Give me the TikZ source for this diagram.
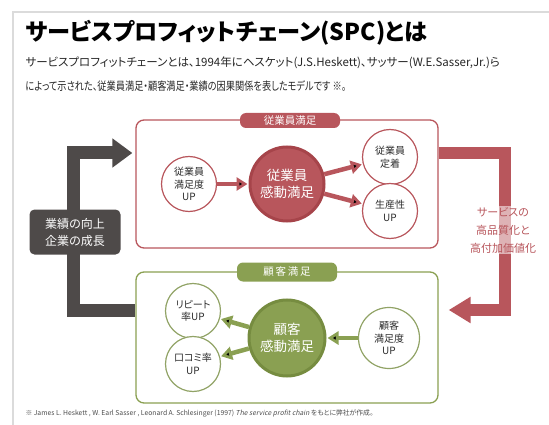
\documentclass[tikz,border=0pt]{standalone}
\usepackage[usenames,dvipsnames]{xcolor}
\usepackage{fontspec}
\setmainfont{Noto Sans CJK JP}[RawFeature=+palt]
\newfontfamily\slantfont{Noto Sans CJK JP}[FakeSlant=0.2]
\newfontfamily\narrowfont{Noto Sans CJK JP}[RawFeature=+palt, FakeStretch=0.8]
\usepackage{tikz}
\usetikzlibrary{arrows.meta}

\definecolor{empred}{RGB}{184,86,92}
\definecolor{empring}{RGB}{166,68,74}
\definecolor{cusgreen}{RGB}{138,160,82}
\definecolor{cusring}{RGB}{118,140,64}
\definecolor{perfgray}{RGB}{78,74,73}
\definecolor{circtext}{RGB}{45,45,45}

\tikzset{
  framel/.style={draw=black!14, line width=1.6pt},
  empbox/.style={draw=empred, line width=1.3pt, rounded corners=8pt, minimum width=302pt, minimum height=128pt},
  cusbox/.style={draw=cusgreen, line width=1.3pt, rounded corners=8pt, minimum width=302pt, minimum height=131pt},
  redtab/.style={fill=empred, text=white, rounded corners=6pt, minimum width=100pt, minimum height=15pt, inner sep=0pt, font=\fontsize{10.5}{12}\selectfont},
  greentab/.style={fill=cusgreen, text=white, rounded corners=6pt, minimum width=100pt, minimum height=19pt, inner sep=0pt, font=\fontsize{10.5}{12}\selectfont},
  redsmall/.style={circle, draw=empred, line width=1.2pt, fill=white, minimum size=55pt, inner sep=0pt, align=center, text=circtext, font=\fontsize{10}{12.5}\selectfont},
  greensmall/.style={circle, draw=cusring!80, line width=1.2pt, fill=white, minimum size=55pt, inner sep=0pt, align=center, text=circtext, font=\fontsize{10}{12.5}\selectfont},
  redbig/.style={circle, fill=empred, draw=empring, line width=3pt, minimum size=74pt, inner sep=0pt, align=center, text=white, font=\fontsize{13.5}{17}\selectfont},
  greenbig/.style={circle, fill=cusgreen, draw=cusring, line width=3pt, minimum size=76pt, inner sep=0pt, align=center, text=white, font=\fontsize{13.5}{17}\selectfont},
  redarrow/.style={draw=empred, line width=4.5pt, -{Triangle[width=13pt,length=11pt]}, shorten >=1pt},
  greenarrow/.style={draw=cusgreen, line width=4.5pt, -{Triangle[width=13pt,length=11pt]}, shorten >=1pt},
  perfarrow/.style={draw=perfgray, line width=13pt, -{Triangle[width=28pt,length=20pt]}, shorten >=3pt},
  svcarrow/.style={draw=empred, line width=12pt, -{Triangle[width=25pt,length=22pt]}, shorten >=10pt},
  perfbox/.style={fill=perfgray, text=white, rounded corners=5pt, minimum width=91pt, minimum height=45pt, align=center, font=\fontsize{12}{17}\selectfont},
  svcnote/.style={fill=white, fill opacity=0.55, text opacity=1, text=empred, inner sep=1pt, align=center, font=\fontsize{11}{18}\selectfont}
}

\begin{document}
\begin{tikzpicture}[x=1pt,y=-1pt]
  \useasboundingbox (0,0) rectangle (549,425);
  \draw[framel] (13,425) -- (13,12) -- (549,12);

  % title and lead text
  \draw (22,33) node[anchor=west, font=\fontsize{23.2}{28}\selectfont\bfseries] (title) {サービスプロフィットチェーン(SPC)とは};
  \draw (22,63) node[anchor=west, font=\fontsize{11.5}{12}\selectfont, text=black!85] (lead1) {サービスプロフィットチェーンとは、1994年にヘスケット(J.S.Heskett)、サッサー(W.E.Sasser,Jr.)ら};
  \draw (22,86) node[anchor=west, font=\fontsize{11.5}{12}\narrowfont, text=black!85] (lead2) {によって示された、従業員満足・顧客満足・業績の因果関係を表したモデルです ※。};

  % the two boxes
  \draw (287,184) node[empbox] (empbox) {};
  \draw (287,337.5) node[cusbox] (cusbox) {};
  \draw (290,120.5) node[redtab] (emptab) {従業員満足};
  \draw (287,272) node[greentab] (custab) {顧\,客\,満\,足};

  % big connecting arrows
  \draw[perfarrow] ([yshift=27.5pt]cusbox.west) -- ++(-62,0) |- ([yshift=31pt]empbox.west);
  \draw[svcarrow] ([yshift=31pt]empbox.east) -- ++(66,0) |- ([yshift=27.5pt]cusbox.east);
  \draw (75,232) node[perfbox] (perf) {業績の向上\\企業の成長};
  \draw (503,230) node[svcnote] (svc) {サービスの\\高品質化と\\高付加価値化};

  % employee side
  \draw (189,184) node[redsmall] (empup) {従業員\\満足度\\UP};
  \draw (287,184) node[redbig] (empbig) {従業員\\感動満足};
  \draw (390,157) node[redsmall] (empstay) {従業員\\定着};
  \draw (390,211) node[redsmall] (prod) {生産性\\UP};

  \path[redarrow] (empup) edge (empbig);
  \path[redarrow] (empbig) edge (empstay);
  \path[redarrow] (empbig) edge (prod);

  % customer side
  \draw (193,311) node[greensmall] (repeat) {リピート\\率UP};
  \draw (193,364) node[greensmall] (wom) {口コミ率\\UP};
  \draw (287,338) node[greenbig] (cusbig) {顧客\\感動満足};
  \draw (389,338) node[greensmall, minimum size=61pt] (cusup) {顧客\\満足度\\UP};

  \path[greenarrow] (cusup) edge (cusbig);
  \path[greenarrow] (cusbig) edge (repeat);
  \path[greenarrow] (cusbig) edge (wom);

  % source note
  \draw (22,413) node[anchor=west, font=\fontsize{6.8}{7}\selectfont, text=black!70] (source) {※ James L. Heskett , W. Earl Sasser , Leonard A. Schlesinger (1997) {\slantfont The service profit chain} をもとに弊社が作成。};
\end{tikzpicture}
\end{document}
